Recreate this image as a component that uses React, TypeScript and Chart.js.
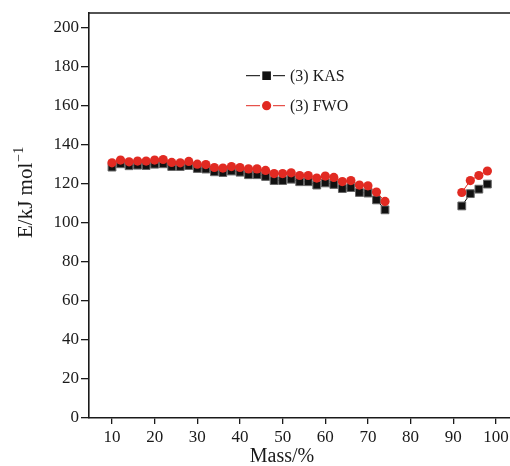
import React, { useEffect, useRef } from "react";
import { Chart, registerables } from "chart.js";

Chart.register(...registerables);

// Mass loss (%) sampled on the main conversion run and the late-stage run
const MASS_MAIN = [10, 12, 14, 16, 18, 20, 22, 24, 26, 28, 30, 32, 34, 36, 38, 40, 42, 44, 46, 48, 50, 52, 54, 56, 58, 60, 62, 64, 66, 68, 70, 72, 74];
const MASS_LATE = [92, 94, 96, 98];

// Activation energy, kJ/mol
const KAS_MAIN = [128.6, 130.3, 129.3, 129.6, 129.4, 130.1, 130.3, 128.9, 128.9, 129.4, 127.9, 127.6, 126.2, 125.8, 126.6, 126.0, 124.7, 124.7, 123.8, 121.7, 121.7, 122.4, 121.1, 121.1, 119.4, 120.5, 119.7, 117.6, 118.1, 115.6, 115.3, 111.8, 106.7];
const KAS_LATE = [108.7, 115.0, 117.3, 119.9];
const FWO_MAIN = [130.8, 132.2, 131.3, 131.7, 131.7, 132.2, 132.5, 131.0, 130.8, 131.5, 130.1, 129.9, 128.4, 128.1, 128.9, 128.4, 127.7, 127.7, 126.9, 125.3, 125.3, 125.7, 124.3, 124.3, 123.0, 124.0, 123.3, 121.2, 121.7, 119.4, 119.0, 115.8, 111.0];
const FWO_LATE = [115.6, 121.7, 124.3, 126.6];

const X_TICKS = [10, 20, 30, 40, 50, 60, 70, 80, 90, 100];
const Y_TICKS = [0, 20, 40, 60, 80, 100, 120, 140, 160, 180, 200];

const SERIES_KAS = "(3) KAS";
const SERIES_FWO = "(3) FWO";
const X_TITLE = "Mass/%";
const Y_TITLE = "E/kJ mol";
const Y_TITLE_SUP = "\u22121";

const SERIF = "'Liberation Serif', 'DejaVu Serif', serif";
const INK = "#1a1a1a";
const RED = "#e12a22";

const pts = (xs: number[], ys: number[]) => xs.map((x, i) => ({ x, y: ys[i] }));

const kasStyle = {
  borderColor: "#000",
  backgroundColor: "#111",
  pointBackgroundColor: "#111",
  pointBorderColor: "#666",
  pointBorderWidth: 1,
  pointStyle: "rect" as const,
  pointRadius: 5.5,
  borderWidth: 1,
  order: 1,
};
const fwoStyle = {
  borderColor: RED,
  backgroundColor: RED,
  pointBackgroundColor: RED,
  pointBorderColor: RED,
  pointBorderWidth: 0,
  pointStyle: "circle" as const,
  pointRadius: 4.6,
  borderWidth: 1,
  order: 0,
};

const decorations = {
  id: "decorations",
  afterDraw(chart: any) {
    const ctx = chart.ctx as CanvasRenderingContext2D;
    const { left, right, top } = chart.chartArea;
    ctx.save();

    // top frame line
    ctx.strokeStyle = INK;
    ctx.lineWidth = 1.5;
    ctx.beginPath();
    ctx.moveTo(left, top);
    ctx.lineTo(right, top);
    ctx.stroke();

    // x axis title
    ctx.fillStyle = INK;
    ctx.font = `20px ${SERIF}`;
    ctx.textAlign = "center";
    ctx.textBaseline = "middle";
    ctx.fillText(X_TITLE, 282, 457);

    // y axis title with superscript
    ctx.save();
    ctx.translate(32, 238);
    ctx.rotate(-Math.PI / 2);
    ctx.textAlign = "left";
    ctx.textBaseline = "alphabetic";
    ctx.font = `21px ${SERIF}`;
    ctx.fillText(Y_TITLE, 0, 0);
    const w = ctx.measureText(Y_TITLE).width;
    ctx.font = `14px ${SERIF}`;
    ctx.fillText(Y_TITLE_SUP, w + 1, -9);
    ctx.restore();

    // legend: short line, gap, marker, gap, short line
    const rows = [
      { label: SERIES_KAS, y: 75.7, color: "#000", square: true },
      { label: SERIES_FWO, y: 105.7, color: RED, square: false },
    ];
    for (const r of rows) {
      ctx.strokeStyle = r.color;
      ctx.lineWidth = 1;
      ctx.beginPath();
      ctx.moveTo(246, r.y);
      ctx.lineTo(260, r.y);
      ctx.moveTo(273, r.y);
      ctx.lineTo(285, r.y);
      ctx.stroke();
      if (r.square) {
        ctx.fillStyle = "#111";
        ctx.fillRect(262.3, r.y - 4.3, 8.6, 8.6);
      } else {
        ctx.fillStyle = RED;
        ctx.beginPath();
        ctx.arc(266.6, r.y, 4.6, 0, Math.PI * 2);
        ctx.fill();
      }
      ctx.fillStyle = INK;
      ctx.font = `16px ${SERIF}`;
      ctx.textAlign = "left";
      ctx.textBaseline = "middle";
      ctx.fillText(r.label, 290, r.y + 1.5);
    }
    ctx.restore();
  },
};

export default function App() {
  const ref = useRef<HTMLCanvasElement | null>(null);

  useEffect(() => {
    if (!ref.current) return;
    const chart = new Chart(ref.current, {
      type: "line",
      data: {
        datasets: [
          { label: SERIES_KAS, data: pts(MASS_MAIN, KAS_MAIN), ...kasStyle },
          { label: SERIES_KAS, data: pts(MASS_LATE, KAS_LATE), ...kasStyle },
          { label: SERIES_FWO, data: pts(MASS_MAIN, FWO_MAIN), ...fwoStyle },
          { label: SERIES_FWO, data: pts(MASS_LATE, FWO_LATE), ...fwoStyle },
        ] as any,
      },
      options: {
        responsive: false,
        animation: false,
        devicePixelRatio: 1,
        layout: { padding: { top: 13, left: 0, right: 0, bottom: 0 }, autoPadding: false } as any,
        plugins: { legend: { display: false }, tooltip: { enabled: false } },
        elements: { line: { tension: 0 } },
        scales: {
          x: {
            type: "linear",
            min: 4.61,
            max: 103.3,
            afterBuildTicks: (s: any) => {
              s.ticks = X_TICKS.map((v) => ({ value: v }));
            },
            afterFit: (s: any) => {
              s.height = 48;
              // let the plot run to the right edge; the last label may overhang
              s.paddingLeft = 0;
              s.paddingRight = 0;
            },
            grid: { drawOnChartArea: false, drawTicks: true, tickLength: 6, color: INK, lineWidth: 1.3 },
            border: { display: true, color: INK, width: 1.6 },
            ticks: {
              font: { family: SERIF, size: 17 },
              color: INK,
              padding: 3,
              maxRotation: 0,
              autoSkip: false,
            },
          },
          y: {
            type: "linear",
            min: 0,
            max: 207.6,
            afterBuildTicks: (s: any) => {
              s.ticks = Y_TICKS.map((v) => ({ value: v }));
            },
            afterFit: (s: any) => {
              s.width = 89;
              s.paddingTop = 0;
              s.paddingBottom = 0;
            },
            grid: { drawOnChartArea: false, drawTicks: true, tickLength: 8, color: INK, lineWidth: 1.3 },
            border: { display: true, color: INK, width: 1.6 },
            ticks: {
              font: { family: SERIF, size: 17 },
              color: INK,
              padding: 2,
              autoSkip: false,
            },
          },
        },
      } as any,
      plugins: [decorations],
    });
    return () => chart.destroy();
  }, []);

  return (
    <div style={{ position: "absolute", left: 0, top: 0, width: 510, height: 466, background: "#fff" }}>
      <canvas ref={ref} width={510} height={466} style={{ display: "block" }} />
    </div>
  );
}
